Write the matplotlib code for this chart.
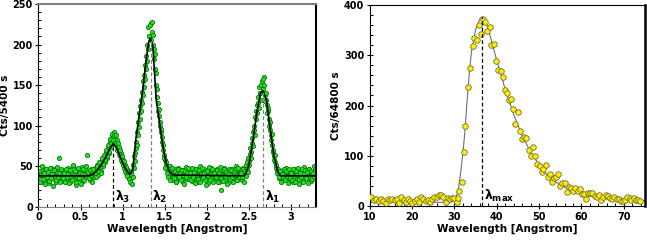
import numpy as np
import matplotlib
matplotlib.use('Agg')
import matplotlib.pyplot as plt
from matplotlib.ticker import MultipleLocator, FormatStrFormatter

plt.rcParams.update({
    'font.family': 'DejaVu Sans',
    'font.weight': 'bold',
    'font.size': 7,
    'mathtext.fontset': 'custom',
    'mathtext.rm': 'DejaVu Sans:bold',
    'mathtext.it': 'DejaVu Sans:bold',
    'mathtext.bf': 'DejaVu Sans:bold',
})

# ── Left panel: three-line spectrum (5400 s) ─────────────────────────────────
# measured counts, two interleaved scans, each sampled every 0.012 Angstrom
wl_step_left = 0.012
cts_left_a = [
    36, 42, 30, 45, 38, 33, 47, 40, 35, 44, 29, 39, 48, 37, 41, 34, 46, 31, 43, 38, 60, 36, 44, 32, 40,
    39, 45, 33, 41, 48, 36, 30, 43, 38, 50, 35, 42, 27, 46, 39, 34, 44, 37, 49, 32, 41, 38, 45, 64, 36,
    40, 33, 46, 38, 44, 36, 48, 41, 52, 39, 47, 55, 44, 58, 50, 62, 55, 68, 60, 72, 66, 80, 74, 86, 79,
    92, 84, 76, 82, 70, 74, 62, 66, 55, 58, 48, 52, 42, 46, 36, 40, 33, 44, 38, 52, 62, 66, 80, 92, 104,
    115, 124, 132, 142, 155, 162, 175, 186, 200, 222, 210, 226, 216, 200, 182, 170, 150, 135, 118, 112, 100, 92, 80, 76, 64,
    58, 52, 47, 44, 40, 50, 36, 43, 33, 46, 39, 31, 44, 48, 35, 41, 38, 45, 30, 42, 37, 49, 34, 40, 44,
    38, 45, 32, 41, 47, 35, 40, 30, 44, 37, 50, 34, 42, 39, 46, 33, 38, 44, 29, 41, 36, 48, 35, 43, 39,
    42, 34, 46, 38, 31, 44, 21, 40, 36, 48, 33, 41, 45, 37, 30, 43, 39, 47, 35, 42, 38, 50, 33, 40, 44,
    37, 44, 33, 48, 40, 46, 52, 47, 60, 56, 72, 68, 85, 92, 100, 110, 118, 125, 135, 148, 140, 155, 145, 160, 138,
    132, 125, 118, 108, 95, 88, 76, 68, 62, 55, 48, 44, 40, 35, 42, 38, 32, 45, 39, 34, 48, 37, 42, 30, 40,
    36, 44, 31, 47, 38, 42, 35, 40, 28, 45, 37, 43, 33, 49, 39, 36, 41, 34, 46, 38, 32, 43, 37, 50, 40,
]
cts_left_b = [
    44, 31, 39, 50, 34, 41, 28, 46, 37, 43, 32, 48, 35, 40, 26, 45, 38, 33, 49, 36, 42, 30, 47, 39, 35,
    42, 30, 47, 36, 40, 29, 45, 38, 33, 51, 39, 44, 31, 37, 48, 35, 42, 28, 40, 46, 33, 39, 50, 37, 43,
    35, 45, 39, 30, 47, 41, 36, 50, 44, 55, 49, 42, 60, 53, 64, 58, 70, 63, 76, 68, 84, 78, 90, 82, 88,
    78, 88, 70, 78, 65, 70, 58, 62, 52, 56, 44, 49, 38, 43, 34, 30, 40, 28, 36, 48, 56, 72, 76, 88, 98,
    108, 118, 128, 138, 148, 158, 170, 180, 195, 210, 224, 205, 228, 212, 195, 188, 165, 145, 128, 120, 105, 96, 86, 70, 60,
    48, 55, 42, 37, 46, 33, 41, 48, 38, 35, 44, 30, 40, 47, 36, 42, 33, 45, 39, 28, 44, 36, 41, 48, 34,
    41, 33, 48, 37, 43, 29, 46, 39, 34, 45, 31, 40, 48, 36, 42, 27, 44, 38, 49, 33, 40, 46, 31, 42, 37,
    36, 45, 30, 41, 49, 35, 39, 32, 46, 38, 43, 28, 40, 47, 34, 45, 36, 31, 43, 39, 46, 33, 48, 37, 41,
    42, 36, 47, 31, 44, 38, 55, 43, 52, 65, 60, 78, 75, 95, 88, 108, 115, 128, 122, 140, 150, 132, 158, 150, 130,
    140, 115, 122, 100, 104, 82, 90, 70, 58, 64, 52, 42, 46, 36, 44, 31, 40, 36, 47, 33, 44, 38, 29, 46, 35,
    41, 33, 46, 38, 30, 44, 39, 48, 34, 42, 36, 47, 31, 40, 45, 35, 43, 29, 47, 38, 44, 34, 41, 36, 46,
]
wl_left_a = np.arange(len(cts_left_a)) * wl_step_left
wl_left_b = wl_left_a + wl_step_left / 2

# fitted profile
fit_wl_left = [0, 0.6, 0.65, 0.7, 0.75, 0.8, 0.85, 0.89, 0.93, 0.97, 1.01, 1.05, 1.09, 1.12,
               1.16, 1.2, 1.24, 1.28, 1.31, 1.33, 1.36, 1.4, 1.44, 1.48, 1.52, 1.56, 1.6,
               2.45, 2.5, 2.55, 2.6, 2.64, 2.67, 2.71, 2.75, 2.8, 2.85, 2.88, 3.3]
fit_cts_left = [38, 38, 40, 45, 52, 61, 72, 78, 72, 62, 52, 44, 40, 46,
                85, 115, 144, 181, 203, 208, 198, 132, 103, 74, 53, 43, 39,
                38, 50, 82, 118, 140, 143, 132, 100, 62, 42, 38, 38]

line_pos_left = [0.89, 1.335, 2.67]
line_top_left = [78, 206, 142]
line_names_left = [r'$\lambda_3$', r'$\lambda_2$', r'$\lambda_1$']
line_colors_left = ['black', '#808080', '#808080']

# ── Right panel: broad peak (64800 s) ────────────────────────────────────────
wl_right = [10.4, 10.9, 11.6, 12.1, 12.6, 13.1, 13.8, 14.3, 14.9, 15.3, 15.9, 16.4, 16.9, 17.4,
            18.0, 18.5, 19.0, 19.6, 20.0, 20.6, 21.1, 21.6, 22.2, 22.7, 23.2, 23.7, 24.3, 24.7,
            25.3, 25.8, 26.3, 26.9, 27.4, 27.9, 28.4, 29.0, 29.5, 30.0, 30.5, 30.9, 31.2, 31.7,
            32.2, 32.6, 33.2, 33.7, 34.3, 34.7, 35.3, 35.8, 36.2, 36.7, 37.3, 37.8, 38.3, 38.7,
            39.3, 39.8, 40.4, 40.9, 41.4, 42.0, 42.4, 42.9, 43.4, 43.9, 44.4, 44.9, 45.4, 46.0,
            46.4, 47.0, 47.5, 48.0, 48.6, 49.0, 49.6, 50.1, 50.6, 51.0, 51.6, 52.1, 52.6, 53.0,
            53.5, 54.0, 54.5, 55.0, 55.5, 56.0, 56.5, 57.0, 57.6, 58.1, 58.5, 59.1, 59.6, 60.1,
            60.6, 61.1, 61.6, 62.1, 62.6, 63.2, 63.7, 64.2, 64.7, 65.2, 65.7, 66.2, 66.8, 67.3,
            67.7, 68.3, 68.8, 69.3, 69.8, 70.3, 70.8, 71.4, 71.8, 72.3, 72.8, 73.3, 73.8]
cts_right = [19, 13, 14, 11, 14, 10, 7, 14, 13, 15, 13, 14, 7, 19,
             13, 9, 14, 10, 7, 11, 14, 9, 18, 14, 10, 13, 9, 15,
             18, 19, 22, 23, 19, 9, 17, 14, 17, 17, 9, 17, 31, 49,
             108, 159, 236, 274, 318, 334, 329, 360, 342, 372, 366, 348, 355, 321,
             323, 288, 270, 269, 257, 230, 225, 210, 213, 194, 163, 187, 149, 133,
             138, 135, 112, 99, 117, 100, 83, 79, 68, 75, 82, 59, 65, 49,
             56, 59, 65, 40, 47, 46, 28, 39, 36, 30, 37, 30, 35, 24,
             24, 14, 26, 26, 27, 20, 19, 23, 12, 19, 22, 20, 16, 15,
             18, 14, 15, 10, 11, 13, 18, 16, 13, 17, 12, 13, 10]

fit_wl_right = [10, 28, 29, 29.5, 30, 30.5, 31, 31.5, 32, 32.5, 33, 33.5, 34, 35, 36, 36.5, 37,
                38, 39, 40, 42, 44, 46, 48, 50, 52, 54, 56, 58, 60, 62, 64, 66, 68, 70, 72, 75]
fit_cts_right = [8, 8, 8, 9, 13, 20, 38, 68, 105, 150, 210, 262, 305, 350, 372, 376, 372,
                 352, 320, 290, 232, 182, 140, 108, 82, 62, 48, 38, 30, 24, 20, 17, 15, 13, 12, 11, 11]

lam_max = 36.5
lam_max_top = 376


def style_axes(ax, xmaj, xmin, ymaj, ymin):
    ax.xaxis.set_major_locator(MultipleLocator(xmaj))
    ax.xaxis.set_minor_locator(MultipleLocator(xmin))
    ax.yaxis.set_major_locator(MultipleLocator(ymaj))
    ax.yaxis.set_minor_locator(MultipleLocator(ymin))
    ax.xaxis.set_major_formatter(FormatStrFormatter('%g'))
    ax.tick_params(which='major', direction='inout', length=4, width=0.8, pad=2, labelsize=7)
    ax.tick_params(which='minor', direction='in', length=2.5, width=0.7)
    ax.set_xlabel('Wavelength [Angstrom]', fontsize=7.5, fontweight='bold', labelpad=1)


fig = plt.figure(figsize=(6.47, 2.40), dpi=100)

# left
ax1 = fig.add_axes([0.0595, 0.1388, 0.4289, 0.8446])
for wl, cts in [(wl_left_a, cts_left_a), (wl_left_b, cts_left_b)]:
    ax1.scatter(wl, cts, s=10, facecolor='#1ee01e', edgecolor='#0a6a0a', linewidth=0.5, zorder=2)
ax1.plot(fit_wl_left, fit_cts_left, color='black', lw=1.2, zorder=3)
for xp, yt, name, col in zip(line_pos_left, line_top_left, line_names_left, line_colors_left):
    ax1.plot([xp, xp], [0, yt], color=col, lw=0.9, ls=(0, (3, 2)), zorder=4)
    ax1.text(xp + 0.02, 2, name, fontsize=9, va='bottom', ha='left')
ax1.set_xlim(0, 3.3)
ax1.set_ylim(0, 250)
ax1.set_ylabel('Cts/5400 s', fontsize=7.5, fontweight='bold', labelpad=2)
style_axes(ax1, 0.5, 0.1, 50, 10)
ax1.spines['top'].set_color('#808080')
ax1.spines['top'].set_linewidth(1.5)
ax1.spines['right'].set_linewidth(1.5)
ax1.spines['bottom'].set_color('#808080')

# right
ax2 = fig.add_axes([0.5714, 0.1404, 0.4255, 0.8400])
ax2.plot(fit_wl_right, fit_cts_right, color='#6e6e6e', lw=0.8, zorder=2)
ax2.scatter(wl_right, cts_right, s=16, facecolor='#ffee00', edgecolor='#707040', linewidth=0.6, zorder=3)
ax2.plot([lam_max, lam_max], [0, lam_max_top], color='black', lw=0.9, ls=(0, (3, 2)), zorder=4)
ax2.text(lam_max + 0.4, 4, r'$\lambda_{max}$', fontsize=9, va='bottom', ha='left')
ax2.set_xlim(10, 75)
ax2.set_ylim(0, 400)
ax2.set_ylabel('Cts/64800 s', fontsize=7.5, fontweight='bold', labelpad=2)
style_axes(ax2, 10, 2, 100, 20)
ax2.spines['right'].set_linewidth(1.8)

fig.savefig('out.png', dpi=100)
